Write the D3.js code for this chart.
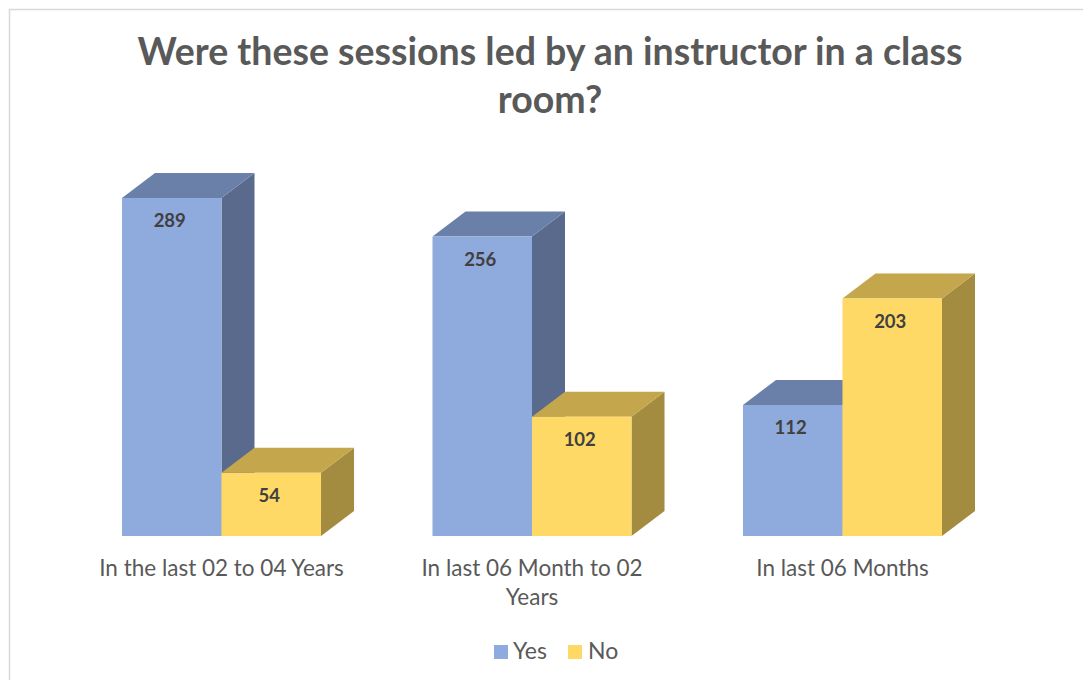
<!DOCTYPE html>
<html>
<head>
<meta charset="utf-8">
<script src="https://cdn.jsdelivr.net/npm/d3@7"></script>
<style>
  html, body { margin: 0; padding: 0; background: #ffffff; }
  svg { display: block; }
</style>
</head>
<body>
<svg id="chart" width="1083" height="680"></svg>
<script>
// Survey data
const categories = ["In the last 02 to 04 Years", "In last 06 Month to 02 Years", "In last 06 Months"];
const categoryLines = [["In the last 02 to 04 Years"], ["In last 06 Month to 02", "Years"], ["In last 06 Months"]];
const seriesNames = ["Yes", "No"];
const yesValues = [289, 256, 112];
const noValues = [54, 102, 203];
const titleLines = ["Were these sessions led by an instructor in a class", "room?"];

const W = 1083, H = 680;
const svg = d3.select("#chart");
const FONT = "Lato, 'Open Sans', sans-serif";

// Shading for front / top / side faces of the 3D columns
const palette = {
  Yes: { front: "#8faadc", top: "#6b80a9", side: "#5a6a8d" },
  No:  { front: "#ffd966", top: "#c4a64d", side: "#a38b40" }
};
const depth = { dx: 33, dy: -25 };

// Chart frame
svg.append("rect")
  .attr("x", 9.5).attr("y", 9.5)
  .attr("width", W + 20).attr("height", H + 20)
  .attr("fill", "none").attr("stroke", "#d9d9d9").attr("stroke-width", 1.5);

// Scales
const x = d3.scaleBand().domain(categories).range([122, 942]).paddingInner(0.359).paddingOuter(0);
const xs = d3.scaleBand().domain(seriesNames).range([0, x.bandwidth()]).padding(0);
const y = d3.scaleLinear().domain([0, 289]).range([536, 198]);

const rows = categories.map((c, i) => ({
  cat: c,
  bars: [
    { series: "Yes", value: yesValues[i] },
    { series: "No", value: noValues[i] }
  ]
}));

const groups = svg.append("g").selectAll("g.group")
  .data(rows).join("g").attr("class", "group")
  .attr("transform", d => `translate(${x(d.cat)},0)`);

const bars = groups.selectAll("g.bar")
  .data(d => d.bars).join("g").attr("class", "bar");

bars.each(function(d) {
  const g = d3.select(this);
  const x0 = xs(d.series), x1 = x0 + xs.bandwidth();
  const y0 = y(d.value), yb = y(0);
  const c = palette[d.series];
  // side face
  g.append("path")
    .attr("d", `M${x1},${y0}L${x1 + depth.dx},${y0 + depth.dy}L${x1 + depth.dx},${yb + depth.dy}L${x1},${yb}Z`)
    .attr("fill", c.side);
  // top face
  g.append("path")
    .attr("d", `M${x0},${y0}L${x0 + depth.dx},${y0 + depth.dy}L${x1 + depth.dx},${y0 + depth.dy}L${x1},${y0}Z`)
    .attr("fill", c.top);
  // front face
  g.append("rect")
    .attr("x", x0).attr("y", y0)
    .attr("width", x1 - x0).attr("height", yb - y0)
    .attr("fill", c.front);
  // value label
  g.append("text")
    .attr("x", (x0 + x1) / 2 - 2).attr("y", y0 + 29)
    .attr("text-anchor", "middle")
    .attr("font-family", FONT).attr("font-weight", 700).attr("font-size", 18.5)
    .attr("fill", "#404040")
    .text(d.value);
});

// Category labels
groups.each(function(d, i) {
  const t = d3.select(this).append("text")
    .attr("text-anchor", "middle")
    .attr("font-family", FONT).attr("font-size", 22.5)
    .attr("fill", "#595959");
  categoryLines[i].forEach((line, j) => {
    t.append("tspan").attr("x", x.bandwidth() / 2).attr("y", 576 + j * 29).text(line);
  });
});

// Title
const title = svg.append("text")
  .attr("text-anchor", "middle")
  .attr("font-family", FONT).attr("font-weight", 700).attr("font-size", 37.5)
  .attr("fill", "#595959");
titleLines.forEach((line, j) => {
  title.append("tspan").attr("x", 550).attr("y", 65 + j * 48).text(line);
});

// Legend
const legend = svg.append("g");
const legendItems = [
  { name: "Yes", sx: 494, tx: 513 },
  { name: "No", sx: 568, tx: 588 }
];
legendItems.forEach(it => {
  legend.append("rect").attr("x", it.sx).attr("y", 645).attr("width", 14).attr("height", 14)
    .attr("fill", palette[it.name].front);
  legend.append("text").attr("x", it.tx).attr("y", 659)
    .attr("font-family", FONT).attr("font-size", 23).attr("fill", "#595959")
    .text(it.name);
});
</script>
</body>
</html>
